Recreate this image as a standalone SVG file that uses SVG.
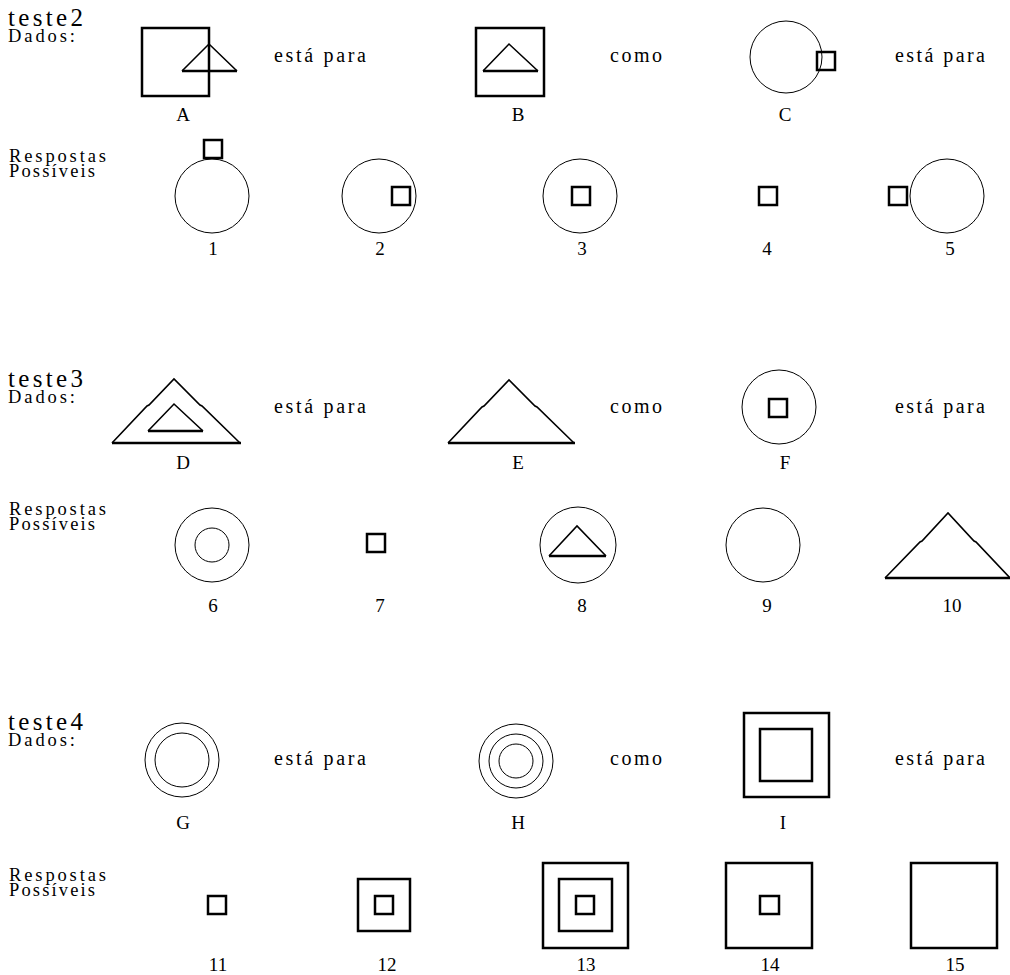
<svg xmlns="http://www.w3.org/2000/svg" width="1010" height="975" viewBox="0 0 1010 975">
<style>
text{font-family:"Liberation Serif","DejaVu Serif",serif;fill:#000}
.title{font-size:25px}
.lbl{font-size:18.5px}
.word{font-size:20px}
.num{font-size:19px;text-anchor:middle}
.thin{fill:none;stroke:#000;stroke-width:1}
.thick{fill:none;stroke:#000;stroke-width:2.5}
.mid{fill:none;stroke:#000;stroke-width:1.6}
</style>
<rect width="1010" height="975" fill="#fff"/>

<!-- teste2 -->
<g id="teste2-heading">
<text class="title" x="8" y="26" textLength="75" lengthAdjust="spacing">teste2</text>
<text class="lbl" x="8" y="42" textLength="67" lengthAdjust="spacing">Dados:</text>
<text class="lbl" x="9" y="162" textLength="97" lengthAdjust="spacing">Respostas</text>
<text class="lbl" x="9" y="177" textLength="86" lengthAdjust="spacing">Possíveis</text>
</g>
<g id="A">
<rect class="thick" x="142" y="28" width="67" height="68"/>
<path class="mid" d="M182,71 L209,44 L237,71"/>
<line class="thick" x1="182" y1="71" x2="237" y2="71"/>
<text class="num" x="183" y="121">A</text>
</g>
<g id="word-2a"><text class="word" x="274" y="62" textLength="92" lengthAdjust="spacing">está para</text></g>
<g id="B">
<rect class="thick" x="476" y="28" width="68" height="68"/>
<path class="mid" d="M483,71 L509,44 L538,71"/>
<line class="thick" x1="483" y1="71" x2="538" y2="71"/>
<text class="num" x="518" y="121">B</text>
</g>
<g id="word-2b"><text class="word" x="610" y="62" textLength="52" lengthAdjust="spacing">como</text></g>
<g id="C">
<circle class="thin" cx="786" cy="57" r="36"/>
<rect class="thick" x="817" y="52" width="18" height="18"/>
<text class="num" x="785" y="121">C</text>
</g>
<g id="word-2c"><text class="word" x="895" y="62" textLength="90" lengthAdjust="spacing">está para</text></g>

<g id="opt1">
<circle class="thin" cx="212" cy="196" r="37"/>
<rect class="thick" x="204" y="140" width="18" height="18"/>
<text class="num" x="213" y="255">1</text>
</g>
<g id="opt2">
<circle class="thin" cx="379" cy="196" r="37"/>
<rect class="thick" x="392" y="187" width="18" height="18"/>
<text class="num" x="380" y="255">2</text>
</g>
<g id="opt3">
<circle class="thin" cx="580" cy="196" r="37"/>
<rect class="thick" x="572" y="187" width="18" height="18"/>
<text class="num" x="582" y="255">3</text>
</g>
<g id="opt4">
<rect class="thick" x="759" y="187" width="18" height="18"/>
<text class="num" x="767" y="255">4</text>
</g>
<g id="opt5">
<circle class="thin" cx="947" cy="196" r="37"/>
<rect class="thick" x="889" y="187" width="18" height="18"/>
<text class="num" x="950" y="255">5</text>
</g>

<!-- teste3 -->
<g id="teste3-heading">
<text class="title" x="8" y="387" textLength="75" lengthAdjust="spacing">teste3</text>
<text class="lbl" x="8" y="403" textLength="67" lengthAdjust="spacing">Dados:</text>
<text class="lbl" x="9" y="515" textLength="97" lengthAdjust="spacing">Respostas</text>
<text class="lbl" x="9" y="530" textLength="86" lengthAdjust="spacing">Possíveis</text>
</g>
<g id="D">
<path class="mid" d="M112,443 L147,406 L149,405 L174,379 L200,405 L202,406 L240,443"/>
<line class="thick" x1="112" y1="443" x2="241" y2="443"/>
<path class="mid" d="M148,431 L174,404 L203,431"/>
<line class="thick" x1="148" y1="431" x2="203" y2="431"/>
<text class="num" x="183" y="469">D</text>
</g>
<g id="word-3a"><text class="word" x="274" y="413" textLength="92" lengthAdjust="spacing">está para</text></g>
<g id="E">
<path class="mid" d="M448,443 L482,407 L484,406 L509,380 L535,406 L537,407 L574,443"/>
<line class="thick" x1="448" y1="443" x2="575" y2="443"/>
<text class="num" x="518" y="469">E</text>
</g>
<g id="word-3b"><text class="word" x="610" y="413" textLength="52" lengthAdjust="spacing">como</text></g>
<g id="F">
<circle class="thin" cx="779" cy="407" r="37"/>
<rect class="thick" x="769" y="399" width="18" height="18"/>
<text class="num" x="785" y="469">F</text>
</g>
<g id="word-3c"><text class="word" x="895" y="413" textLength="90" lengthAdjust="spacing">está para</text></g>

<g id="opt6">
<circle class="thin" cx="212" cy="545" r="37"/>
<circle class="thin" cx="212" cy="545" r="17"/>
<text class="num" x="213" y="612">6</text>
</g>
<g id="opt7">
<rect class="thick" x="367" y="534" width="18" height="18"/>
<text class="num" x="380" y="612">7</text>
</g>
<g id="opt8">
<circle class="thin" cx="578" cy="545" r="38"/>
<path class="mid" d="M549,556 L577,526 L606,556"/>
<line class="thick" x1="549" y1="556" x2="606" y2="556"/>
<text class="num" x="582" y="612">8</text>
</g>
<g id="opt9">
<circle class="thin" cx="763" cy="545" r="37"/>
<text class="num" x="767" y="612">9</text>
</g>
<g id="opt10">
<path class="mid" d="M885,578 L920,542 L922,541 L948,513 L974,541 L976,542 L1010,578"/>
<line class="thick" x1="885" y1="578" x2="1010" y2="578"/>
<text class="num" x="952" y="612">10</text>
</g>

<!-- teste4 -->
<g id="teste4-heading">
<text class="title" x="8" y="730" textLength="75" lengthAdjust="spacing">teste4</text>
<text class="lbl" x="8" y="746" textLength="67" lengthAdjust="spacing">Dados:</text>
<text class="lbl" x="9" y="881" textLength="97" lengthAdjust="spacing">Respostas</text>
<text class="lbl" x="9" y="896" textLength="86" lengthAdjust="spacing">Possíveis</text>
</g>
<g id="G">
<circle class="thin" cx="182" cy="760" r="37"/>
<circle class="thin" cx="182" cy="760" r="27"/>
<text class="num" x="183" y="829">G</text>
</g>
<g id="word-4a"><text class="word" x="274" y="765" textLength="92" lengthAdjust="spacing">está para</text></g>
<g id="H">
<circle class="thin" cx="516" cy="761" r="37"/>
<circle class="thin" cx="516" cy="761" r="27"/>
<circle class="thin" cx="516" cy="761" r="17"/>
<text class="num" x="518" y="829">H</text>
</g>
<g id="word-4b"><text class="word" x="610" y="765" textLength="52" lengthAdjust="spacing">como</text></g>
<g id="I">
<rect class="thick" x="744" y="713" width="85" height="84"/>
<rect class="thick" x="760" y="729" width="52" height="52"/>
<text class="num" x="783" y="829">I</text>
</g>
<g id="word-4c"><text class="word" x="895" y="765" textLength="90" lengthAdjust="spacing">está para</text></g>

<g id="opt11">
<rect class="thick" x="208" y="896" width="18" height="18"/>
<text class="num" x="218" y="971">11</text>
</g>
<g id="opt12">
<rect class="thick" x="358" y="879" width="52" height="52"/>
<rect class="thick" x="375" y="896" width="18" height="18"/>
<text class="num" x="387" y="971">12</text>
</g>
<g id="opt13">
<rect class="thick" x="543" y="863" width="85" height="85"/>
<rect class="thick" x="559" y="879" width="53" height="52"/>
<rect class="thick" x="576" y="896" width="18" height="18"/>
<text class="num" x="586" y="971">13</text>
</g>
<g id="opt14">
<rect class="thick" x="726" y="863" width="86" height="85"/>
<rect class="thick" x="760" y="896" width="19" height="18"/>
<text class="num" x="770" y="971">14</text>
</g>
<g id="opt15">
<rect class="thick" x="911" y="863" width="86" height="85"/>
<text class="num" x="955" y="971">15</text>
</g>
<g id="connectors"></g>
</svg>
